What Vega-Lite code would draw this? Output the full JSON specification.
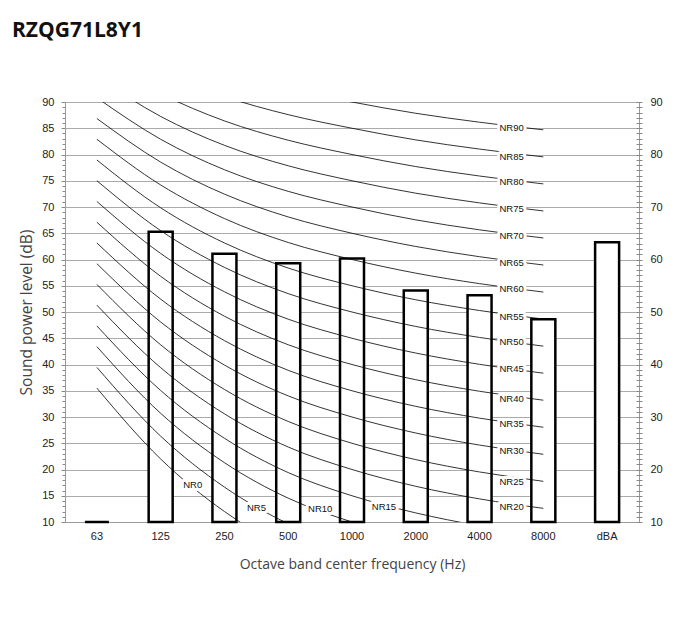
{
  "$schema": "https://vega.github.io/schema/vega-lite/v6.json",
  "width": 574,
  "height": 420,
  "autosize": {"type": "none"},
  "padding": {"left": 65, "top": 102, "right": 43, "bottom": 113},
  "background": "white",
  "title": {"text": "RZQG71L8Y1", "anchor": "start", "frame": "group", "dx": -53, "offset": 38, "baseline": "alphabetic", "font": "Open Sans", "fontSize": 21, "fontWeight": "bold", "color": "#111"},
  "config": {"view": {"stroke": "#999", "strokeWidth": 1}},
  "datasets": {
    "bars": [
      {"band": "63", "level": 10},
      {"band": "125", "level": 65.3},
      {"band": "250", "level": 61.1},
      {"band": "500", "level": 59.3},
      {"band": "1000", "level": 60.2},
      {"band": "2000", "level": 54.1},
      {"band": "4000", "level": 53.2},
      {"band": "8000", "level": 48.6},
      {"band": "dBA", "level": 63.3}
    ],
    "curves": [
      {"nr": 0, "63": 35.5, "125": 22, "250": 12, "500": 4.8, "1000": 0, "2000": -3.5, "4000": -6.1, "8000": -8},
      {"nr": 5, "63": 39.45, "125": 26.35, "250": 16.65, "500": 9.67, "1000": 5, "2000": 1.58, "4000": -0.98, "8000": -2.85},
      {"nr": 10, "63": 43.4, "125": 30.7, "250": 21.3, "500": 14.54, "1000": 10, "2000": 6.65, "4000": 4.15, "8000": 2.3},
      {"nr": 15, "63": 47.35, "125": 35.05, "250": 25.95, "500": 19.41, "1000": 15, "2000": 11.73, "4000": 9.28, "8000": 7.45},
      {"nr": 20, "63": 51.3, "125": 39.4, "250": 30.6, "500": 24.28, "1000": 20, "2000": 16.8, "4000": 14.4, "8000": 12.6},
      {"nr": 25, "63": 55.25, "125": 43.75, "250": 35.25, "500": 29.15, "1000": 25, "2000": 21.88, "4000": 19.53, "8000": 17.75},
      {"nr": 30, "63": 59.2, "125": 48.1, "250": 39.9, "500": 34.02, "1000": 30, "2000": 26.95, "4000": 24.65, "8000": 22.9},
      {"nr": 35, "63": 63.15, "125": 52.45, "250": 44.55, "500": 38.89, "1000": 35, "2000": 32.03, "4000": 29.78, "8000": 28.05},
      {"nr": 40, "63": 67.1, "125": 56.8, "250": 49.2, "500": 43.76, "1000": 40, "2000": 37.1, "4000": 34.9, "8000": 33.2},
      {"nr": 45, "63": 71.05, "125": 61.15, "250": 53.85, "500": 48.63, "1000": 45, "2000": 42.18, "4000": 40.03, "8000": 38.35},
      {"nr": 50, "63": 75, "125": 65.5, "250": 58.5, "500": 53.5, "1000": 50, "2000": 47.25, "4000": 45.15, "8000": 43.5},
      {"nr": 55, "63": 78.95, "125": 69.85, "250": 63.15, "500": 58.37, "1000": 55, "2000": 52.33, "4000": 50.28, "8000": 48.65},
      {"nr": 60, "63": 82.9, "125": 74.2, "250": 67.8, "500": 63.24, "1000": 60, "2000": 57.4, "4000": 55.4, "8000": 53.8},
      {"nr": 65, "63": 86.85, "125": 78.55, "250": 72.45, "500": 68.11, "1000": 65, "2000": 62.48, "4000": 60.53, "8000": 58.95},
      {"nr": 70, "63": 90.8, "125": 82.9, "250": 77.1, "500": 72.98, "1000": 70, "2000": 67.55, "4000": 65.65, "8000": 64.1},
      {"nr": 75, "63": 94.75, "125": 87.25, "250": 81.75, "500": 77.85, "1000": 75, "2000": 72.63, "4000": 70.78, "8000": 69.25},
      {"nr": 80, "63": 98.7, "125": 91.6, "250": 86.4, "500": 82.72, "1000": 80, "2000": 77.7, "4000": 75.9, "8000": 74.4},
      {"nr": 85, "63": 102.65, "125": 95.95, "250": 91.05, "500": 87.59, "1000": 85, "2000": 82.78, "4000": 81.03, "8000": 79.55},
      {"nr": 90, "63": 106.6, "125": 100.3, "250": 95.7, "500": 92.46, "1000": 90, "2000": 87.85, "4000": 86.15, "8000": 84.7}
    ],
    "labels": [
      {"label": "NR0", "band": "125", "level": 17.0},
      {"label": "NR5", "band": "250", "level": 12.6},
      {"label": "NR10", "band": "500", "level": 12.4},
      {"label": "NR15", "band": "1000", "level": 12.9},
      {"label": "NR20", "band": "4000", "level": 12.8},
      {"label": "NR25", "band": "4000", "level": 17.6},
      {"label": "NR30", "band": "4000", "level": 23.6},
      {"label": "NR35", "band": "4000", "level": 28.7},
      {"label": "NR40", "band": "4000", "level": 33.4},
      {"label": "NR45", "band": "4000", "level": 39.1},
      {"label": "NR50", "band": "4000", "level": 44.2},
      {"label": "NR55", "band": "4000", "level": 49.1},
      {"label": "NR60", "band": "4000", "level": 54.3},
      {"label": "NR65", "band": "4000", "level": 59.4},
      {"label": "NR70", "band": "4000", "level": 64.4},
      {"label": "NR75", "band": "4000", "level": 69.7},
      {"label": "NR80", "band": "4000", "level": 74.7},
      {"label": "NR85", "band": "4000", "level": 79.6},
      {"label": "NR90", "band": "4000", "level": 85.0}
    ]
  },
  "layer": [
    {
      "data": {"name": "bars"},
      "mark": {"type": "bar", "fill": "white", "stroke": "black", "strokeWidth": 2.5, "width": 24},
      "encoding": {
        "x": {
          "field": "band", "type": "ordinal",
          "sort": ["63", "125", "250", "500", "1000", "2000", "4000", "8000", "dBA"],
          "scale": {"paddingInner": 0.6, "paddingOuter": 0.3},
          "axis": {
            "title": "Octave band center frequency (Hz)", "ticks": false, "labelAngle": 0, "labelPadding": 8,
            "domainColor": "#999", "labelFont": "Liberation Sans", "labelFontSize": 11, "labelColor": "#222",
            "titleFont": "Open Sans", "titleFontSize": 14, "titleFontWeight": "normal", "titleColor": "#444", "titlePadding": 16, "grid": false
          }
        },
        "y": {
          "field": "level", "type": "quantitative",
          "scale": {"domain": [10, 90], "zero": false, "nice": false},
          "axis": {
            "values": [10,11,12,13,14,15,16,17,18,19,20,21,22,23,24,25,26,27,28,29,30,31,32,33,34,35,36,37,38,39,40,41,42,43,44,45,46,47,48,49,50,51,52,53,54,55,56,57,58,59,60,61,62,63,64,65,66,67,68,69,70,71,72,73,74,75,76,77,78,79,80,81,82,83,84,85,86,87,88,89,90],
            "labelExpr": "datum.value % 5 === 0 ? datum.label : ''",
            "tickSize": {"condition": {"test": "datum.value % 5 === 0", "value": 4}, "value": 3},
            "grid": true,
            "gridOpacity": {"condition": {"test": "datum.value % 5 === 0", "value": 1}, "value": 0},
            "gridColor": "#aaa", "domainColor": "#999", "tickColor": "#888",
            "labelPadding": 7, "labelOverlap": false, "labelFont": "Liberation Sans", "labelFontSize": 11, "labelColor": "#222",
            "title": "Sound power level (dB)", "titleFont": "Open Sans", "titleFontSize": 15.5, "titleFontWeight": "normal", "titleColor": "#444", "titlePadding": 7
          }
        },
        "y2": {"datum": 10}
      }
    },
    {
      "data": {"name": "curves"},
      "transform": [{"fold": ["63", "125", "250", "500", "1000", "2000", "4000", "8000"], "as": ["band", "level"]}],
      "mark": {"type": "line", "interpolate": "monotone", "stroke": "black", "strokeWidth": 0.8, "clip": true},
      "encoding": {
        "x": {"field": "band", "type": "ordinal", "sort": ["63", "125", "250", "500", "1000", "2000", "4000", "8000", "dBA"]},
        "y": {"field": "level", "type": "quantitative", "scale": {"domain": [10, 90], "zero": false, "nice": false}, "axis": null},
        "detail": {"field": "nr", "type": "nominal"}
      }
    },
    {
      "data": {"name": "labels"},
      "mark": {"type": "text", "dx": 32, "align": "center", "baseline": "middle", "font": "Liberation Sans", "fontSize": 9.5, "fill": "white", "stroke": "white", "strokeWidth": 6, "strokeJoin": "round"},
      "encoding": {
        "x": {"field": "band", "type": "ordinal", "sort": ["63", "125", "250", "500", "1000", "2000", "4000", "8000", "dBA"]},
        "y": {"field": "level", "type": "quantitative", "scale": {"domain": [10, 90], "zero": false, "nice": false}, "axis": null},
        "text": {"field": "label"}
      }
    },
    {
      "data": {"name": "labels"},
      "mark": {"type": "text", "dx": 32, "align": "center", "baseline": "middle", "font": "Liberation Sans", "fontSize": 9.5, "fill": "#111"},
      "encoding": {
        "x": {"field": "band", "type": "ordinal", "sort": ["63", "125", "250", "500", "1000", "2000", "4000", "8000", "dBA"]},
        "y": {
          "field": "level", "type": "quantitative", "scale": {"domain": [10, 90], "zero": false, "nice": false},
          "axis": {
            "orient": "right",
            "values": [10,11,12,13,14,15,16,17,18,19,20,21,22,23,24,25,26,27,28,29,30,31,32,33,34,35,36,37,38,39,40,41,42,43,44,45,46,47,48,49,50,51,52,53,54,55,56,57,58,59,60,61,62,63,64,65,66,67,68,69,70,71,72,73,74,75,76,77,78,79,80,81,82,83,84,85,86,87,88,89,90],
            "labelExpr": "datum.value % 10 === 0 ? datum.label : ''",
            "tickSize": 6, "offset": -3, "domain": false, "grid": false, "tickColor": "#888",
            "labelPadding": 8, "labelOverlap": false, "labelFont": "Liberation Sans", "labelFontSize": 11, "labelColor": "#222",
            "title": null
          }
        },
        "text": {"field": "label"}
      }
    }
  ],
  "resolve": {"axis": {"y": "independent"}}
}
